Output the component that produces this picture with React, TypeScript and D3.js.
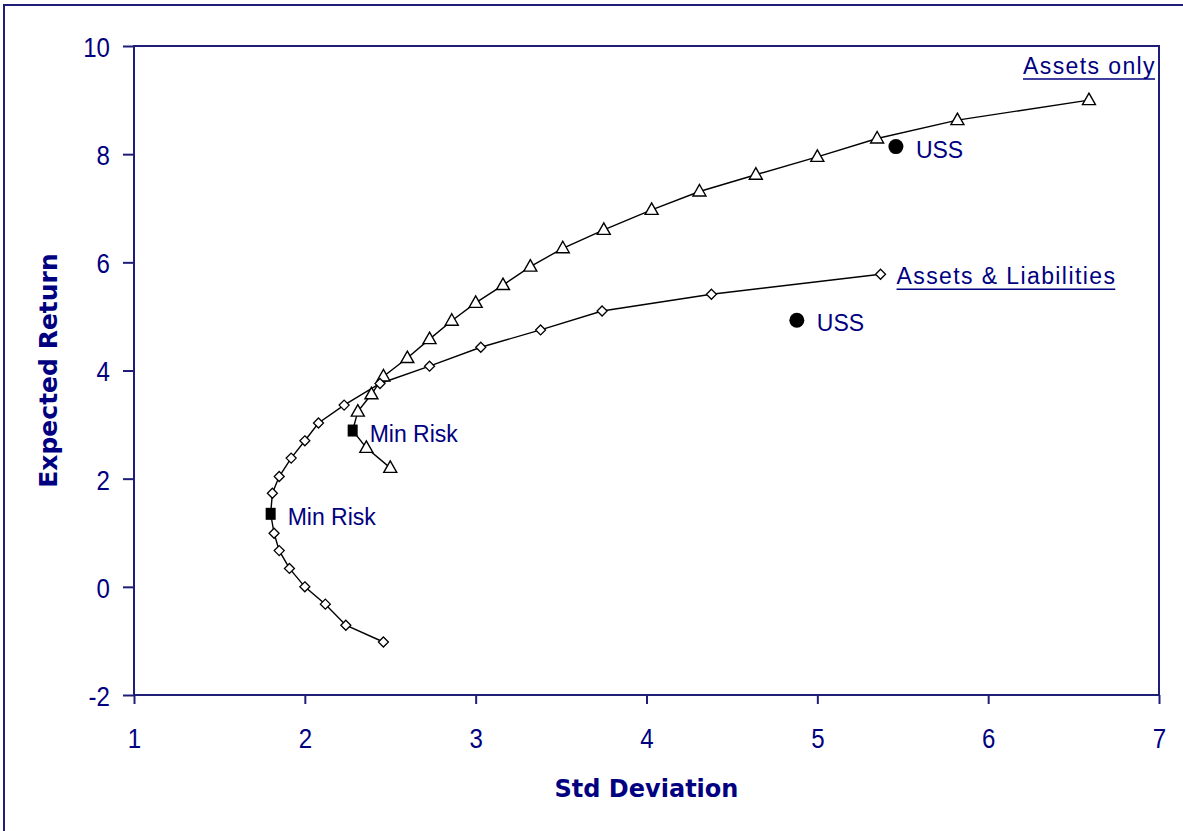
import React, { useEffect, useRef } from 'react';
import * as d3 from 'd3';

// Efficient frontier: assets only (triangles)
const assetsStd = [2.5, 2.36, 2.31, 2.39, 2.46, 2.6, 2.73, 2.86, 3.0, 3.16, 3.32, 3.51, 3.75, 4.03, 4.31, 4.64, 5.0, 5.35, 5.82, 6.59];
const assetsRet = [2.2, 2.57, 3.24, 3.56, 3.89, 4.23, 4.58, 4.92, 5.25, 5.58, 5.92, 6.26, 6.6, 6.97, 7.31, 7.62, 7.95, 8.29, 8.63, 9.0];

// Efficient frontier: assets & liabilities (diamonds)
const liabStd = [2.46, 2.24, 2.12, 2.0, 1.91, 1.85, 1.82, 1.81, 1.85, 1.92, 2.0, 2.08, 2.23, 2.44, 2.73, 3.03, 3.38, 3.74, 4.38, 5.37];
const liabRet = [-1.02, -0.71, -0.32, 0.0, 0.34, 0.67, 0.99, 1.73, 2.04, 2.38, 2.7, 3.03, 3.36, 3.76, 4.08, 4.43, 4.75, 5.1, 5.41, 5.78];

// min risk portfolios [assets only, assets & liabilities]
const minRiskStd = [2.28, 1.8];
const minRiskRet = [2.89, 1.35];

// USS portfolio [assets only, assets & liabilities]
const ussStd = [5.46, 4.88];
const ussRet = [8.14, 4.93];

const xTicks = [1, 2, 3, 4, 5, 6, 7];
const yTicks = [-2, 0, 2, 4, 6, 8, 10];

const NAVY = '#000080';
const AXIS = '#1e1e78';

const App: React.FC = () => {
  const svgRef = useRef<SVGSVGElement | null>(null);

  useEffect(() => {
    document.body.style.margin = '0';
    const svg = d3.select(svgRef.current);
    svg.selectAll('*').remove();

    const left = 134, top = 46, right = 1159, bottom = 695;
    const x = d3.scaleLinear().domain([1, 7]).range([left, right]);
    const y = d3.scaleLinear().domain([-2, 10]).range([bottom, top]);

    // outer chart border (runs off the right and bottom edges)
    svg.append('rect')
      .attr('x', 4).attr('y', 5)
      .attr('width', 1200).attr('height', 900)
      .attr('fill', 'white')
      .attr('stroke', AXIS).attr('stroke-width', 2);

    // plot area frame
    svg.append('rect')
      .attr('x', left).attr('y', top)
      .attr('width', right - left).attr('height', bottom - top)
      .attr('fill', 'none')
      .attr('stroke', AXIS).attr('stroke-width', 2);

    const fmt = (d: d3.NumberValue) => String(d);

    // X axis
    const gx = svg.append('g')
      .attr('transform', `translate(0,${bottom})`)
      .call(d3.axisBottom(x).tickValues(xTicks).tickSizeInner(9).tickSizeOuter(0).tickPadding(24).tickFormat(fmt));
    gx.select('.domain').remove();
    gx.selectAll('line').attr('stroke', AXIS).attr('stroke-width', 2);
    gx.selectAll('text')
      .attr('fill', NAVY)
      .style('font-family', 'Liberation Sans, Arial, sans-serif')
      .style('font-size', '28px')
      .attr('transform', 'scale(0.86,1)');

    // Y axis
    const gy = svg.append('g')
      .attr('transform', `translate(${left},0)`)
      .call(d3.axisLeft(y).tickValues(yTicks).tickSizeInner(11).tickSizeOuter(0).tickPadding(13).tickFormat(fmt));
    gy.select('.domain').remove();
    gy.selectAll('line').attr('stroke', AXIS).attr('stroke-width', 2);
    gy.selectAll('text')
      .attr('fill', NAVY)
      .attr('x', -24 / 0.86)
      .attr('dy', '0.37em')
      .style('font-family', 'Liberation Sans, Arial, sans-serif')
      .style('font-size', '28px')
      .attr('transform', 'scale(0.86,1)');

    // axis titles
    svg.append('text')
      .attr('x', (left + right) / 2).attr('y', 797)
      .attr('text-anchor', 'middle')
      .attr('fill', NAVY)
      .style('font-family', 'DejaVu Sans, Verdana, sans-serif')
      .style('font-weight', 'bold')
      .style('font-size', '24px')
      .text('Std Deviation');

    svg.append('text')
      .attr('transform', `translate(57,${(top + bottom) / 2}) rotate(-90)`)
      .attr('text-anchor', 'middle')
      .attr('fill', NAVY)
      .style('font-family', 'DejaVu Sans, Verdana, sans-serif')
      .style('font-weight', 'bold')
      .style('font-size', '25px')
      .text('Expected Return');

    type Pt = { s: number; r: number; min?: boolean };
    const build = (std: number[], ret: number[], i: number): Pt[] => {
      const pts: Pt[] = std.map((s, k) => ({ s, r: ret[k] }));
      pts.push({ s: minRiskStd[i], r: minRiskRet[i], min: true });
      return pts.sort((a, b) => a.r - b.r);
    };
    const assets = build(assetsStd, assetsRet, 0);
    const liab = build(liabStd, liabRet, 1);

    const line = d3.line<Pt>().x(d => x(d.s)).y(d => y(d.r));
    const plot = svg.append('g');

    [liab, assets].forEach(series => {
      plot.append('path')
        .datum(series)
        .attr('d', line)
        .attr('fill', 'none')
        .attr('stroke', '#000')
        .attr('stroke-width', 1.4);
    });

    const triangle = 'M0,-7L6.5,4.5L-6.5,4.5Z';
    const diamond = 'M0,-5L5,0L0,5L-5,0Z';

    plot.selectAll('.tri')
      .data(assets.filter(d => !d.min))
      .join('path')
      .attr('class', 'tri')
      .attr('d', triangle)
      .attr('transform', d => `translate(${x(d.s)},${y(d.r)})`)
      .attr('fill', 'white')
      .attr('stroke', '#000')
      .attr('stroke-width', 1.4);

    plot.selectAll('.dia')
      .data(liab.filter(d => !d.min))
      .join('path')
      .attr('class', 'dia')
      .attr('d', diamond)
      .attr('transform', d => `translate(${x(d.s)},${y(d.r)})`)
      .attr('fill', 'white')
      .attr('stroke', '#000')
      .attr('stroke-width', 1.3);

    const labelFont = (sel: d3.Selection<SVGTextElement, unknown, null, undefined>) =>
      sel.attr('fill', NAVY)
        .style('font-family', 'Liberation Sans, Arial, sans-serif')
        .style('font-size', '23px');

    // min risk squares + labels
    minRiskStd.forEach((s, i) => {
      plot.append('rect')
        .attr('x', x(s) - 5).attr('y', y(minRiskRet[i]) - 6)
        .attr('width', 10).attr('height', 12)
        .attr('fill', '#000');
      svg.append('text')
        .attr('x', x(s) + 17).attr('y', y(minRiskRet[i]) + 11)
        .call(labelFont)
        .text('Min Risk');
    });

    // USS circles + labels
    ussStd.forEach((s, i) => {
      plot.append('circle')
        .attr('cx', x(s)).attr('cy', y(ussRet[i]))
        .attr('r', 7.5)
        .attr('fill', '#000');
      svg.append('text')
        .attr('x', x(s) + 20).attr('y', y(ussRet[i]) + 11)
        .call(labelFont)
        .text('USS');
    });

    // underlined series labels
    const seriesLabel = (text: string, lx: number, ly: number) => {
      const t = svg.append('text')
        .attr('x', lx).attr('y', ly)
        .call(labelFont)
        .style('letter-spacing', '1.4px')
        .text(text);
      const w = (t.node() as SVGTextElement).getComputedTextLength();
      svg.append('line')
        .attr('x1', lx).attr('x2', lx + w - 1)
        .attr('y1', ly + 5).attr('y2', ly + 5)
        .attr('stroke', NAVY).attr('stroke-width', 1.5);
    };
    seriesLabel('Assets only', 1023, 74);
    const lastLiab = liab[liab.length - 1];
    seriesLabel('Assets & Liabilities', x(lastLiab.s) + 16, y(lastLiab.r) + 10);
  }, []);

  return (
    <svg
      ref={svgRef}
      width={1183}
      height={831}
      style={{ display: 'block', background: 'white' }}
    />
  );
};

export default App;
